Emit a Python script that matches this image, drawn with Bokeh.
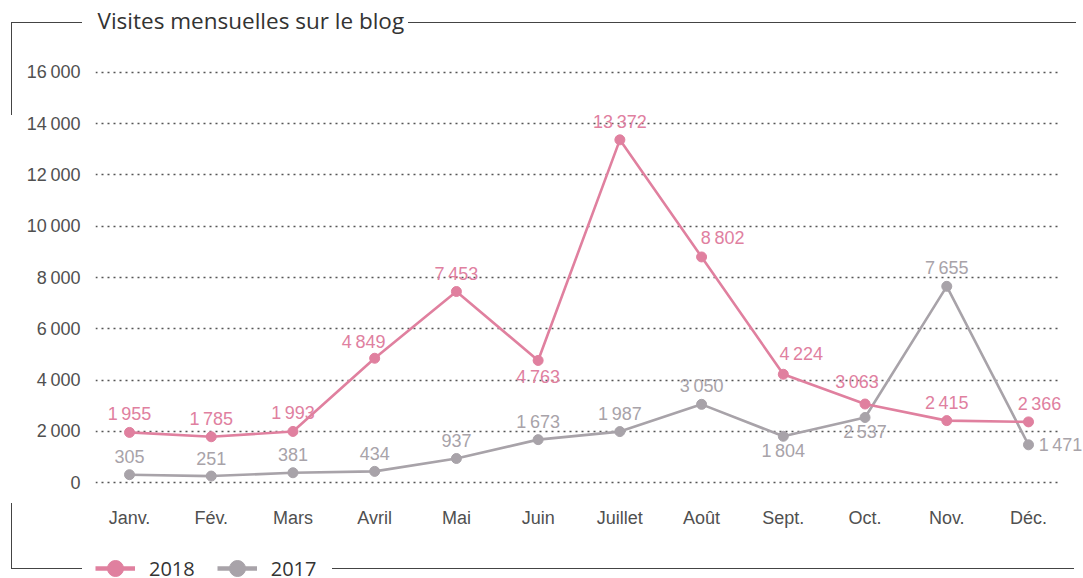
from bokeh.plotting import figure
from bokeh.layouts import column
from bokeh.models import (ColumnDataSource, LabelSet, Label, Legend, LegendItem,
                          FixedTicker, Range1d, BoxAnnotation, InlineStyleSheet)
from bokeh.embed import file_html
from bokeh.resources import INLINE
from bokeh.core.properties import value

# ---------------- data ----------------
months = ["Janv.", "Fév.", "Mars", "Avril", "Mai", "Juin", "Juillet", "Août",
          "Sept.", "Oct.", "Nov.", "Déc."]
visits_2018 = [1955, 1785, 1993, 4849, 7453, 4763, 13372, 8802, 4224, 3063, 2415, 2366]
visits_2017 = [305, 251, 381, 434, 937, 1673, 1987, 3050, 1804, 2537, 7655, 1471]
y_ticks = [0, 2000, 4000, 6000, 8000, 10000, 12000, 14000, 16000]
series_names = ["2018", "2017"]
title_text = "Visites mensuelles sur le blog"

# ---------------- styles / label placement (px) ----------------
PINK = "#e0809f"
GREY = "#a8a3a9"
AXIS_TXT = "#505050"
DARK = "#333333"
place_2018 = [(0, 18), (0, 18), (0, 18), (-11, 16), (0, 18), (0, -17),
              (0, 18), (21, 19), (18, 20), (-8, 22), (0, 18), (11, 18)]
place_2017 = [(0, 18), (0, 18), (0, 18), (0, 18), (0, 18), (0, 18),
              (0, 18), (0, 18), (0, -15), (0, -15), (0, 18), (32, 0)]

# decorative frame (CSS, page pixels): left, top, width, height
frame_segments = [(11, 22, 1, 93), (11, 22, 71, 1), (408, 22, 668, 1),
                  (11, 503, 1, 66), (11, 568, 71, 1), (332, 568, 742, 1)]
css = ":host::after { content: ''; position: absolute; " \
      "left: 0; top: 0; width: 1083px; height: 578px; pointer-events: none; z-index: 50; " \
      "background-repeat: no-repeat; background-image: " + \
      ", ".join("linear-gradient(#444, #444)" for _ in frame_segments) + \
      "; background-size: " + ", ".join(f"{w}px {h}px" for _, _, w, h in frame_segments) + \
      "; background-position: " + ", ".join(f"{l}px {t}px" for l, t, _, _ in frame_segments) + "; }"


def fmt(v):
    return f"{v:,}".replace(",", "\u2009")


def bare(height):
    f = figure(width=1083, height=height, output_backend="svg", toolbar_location=None,
               x_range=Range1d(0, 1), y_range=Range1d(0, 1),
               x_axis_location=None, y_axis_location=None,
               min_border=0, outline_line_color=None,
               background_fill_color="white", border_fill_color="white")
    f.xgrid.visible = False
    f.ygrid.visible = False
    return f


W = 1083
TOP_H, MAIN_H, LEG_H = 44, 504, 30
PX = 81.727  # px per month

# ---------------- title strip (frame aligned with the chart frame at x=95) ----------------
pt = bare(TOP_H)
pt.add_layout(Label(x=2, y=24, x_units="screen", y_units="screen", text=title_text,
                    text_font="Open Sans", text_font_size="22.5px",
                    text_color=DARK, text_align="left", text_baseline="middle"))

# ---------------- main chart ----------------
p = figure(width=W, height=MAIN_H, output_backend="svg", toolbar_location=None,
           x_range=Range1d(-34 / PX, 11 + 55 / PX), y_range=Range1d(-507, 16468),
           min_border_left=95, min_border_right=0, min_border_top=16,
           min_border_bottom=53, outline_line_color=None,
           background_fill_color="white", border_fill_color="white")

xs = list(range(len(months)))
p.xaxis.ticker = FixedTicker(ticks=xs)
p.xaxis.major_label_overrides = {i: m for i, m in enumerate(months)}
p.yaxis.ticker = FixedTicker(ticks=y_ticks)
p.yaxis.major_label_overrides = {t: fmt(t) for t in y_ticks}
for ax in (p.xaxis[0], p.yaxis[0]):
    ax.axis_line_color = None
    ax.major_tick_line_color = None
    ax.minor_tick_line_color = None
    ax.major_tick_in = 0
    ax.major_tick_out = 0
    ax.minor_tick_in = 0
    ax.minor_tick_out = 0
    ax.major_label_text_font = "Liberation Sans"
    ax.major_label_text_font_size = "18px"
    ax.major_label_text_color = AXIS_TXT
p.yaxis.major_label_standoff = 15
p.xaxis.major_label_standoff = 12

p.xgrid.visible = False
p.ygrid.ticker = FixedTicker(ticks=y_ticks)
p.ygrid.grid_line_color = "#555555"
p.ygrid.grid_line_dash = "2 4"
p.ygrid.grid_line_width = 1.3
# keep the dotted grid from running into the right margin
p.add_layout(BoxAnnotation(left=11 + 32 / PX, fill_color="white", fill_alpha=1,
                           line_color=None, level="underlay"))

for vals, col, place in ((visits_2017, GREY, place_2017), (visits_2018, PINK, place_2018)):
    src = ColumnDataSource(dict(x=xs, y=vals, text=[fmt(v) for v in vals],
                                dx=[d[0] for d in place], dy=[d[1] for d in place]))
    p.line("x", "y", source=src, line_color=col, line_width=2.6)
    p.scatter("x", "y", source=src, size=10, fill_color=col, line_color=col)
    p.add_layout(LabelSet(x="x", y="y", text="text", x_offset="dx", y_offset="dy",
                          source=src, text_align="center", text_baseline="middle",
                          text_font=value("Liberation Sans"), text_font_size="18px",
                          text_color=col))

# ---------------- legend strip ----------------
pl = bare(LEG_H)
items = []
nan = float("nan")
for name, col in zip(series_names, (PINK, GREY)):
    lr = pl.line(x=[nan], y=[nan], line_color=col, line_width=4.5)
    sr = pl.scatter(x=[nan], y=[nan], size=10, fill_color=col, line_color=col)
    items.append(LegendItem(label=name, renderers=[lr, sr]))
legend = Legend(items=items, orientation="horizontal", location=(0, -10),
                glyph_width=40, glyph_height=40, label_standoff=14, spacing=22,
                padding=0, margin=0, border_line_color=None, background_fill_alpha=0,
                label_text_font="Open Sans", label_text_font_size="20px",
                label_text_color=DARK, label_text_baseline="middle")
pl.add_layout(legend)

layout = column(pt, p, pl, spacing=0, stylesheets=[InlineStyleSheet(css=css)])
open("out.html", "w").write(file_html(layout, INLINE))
